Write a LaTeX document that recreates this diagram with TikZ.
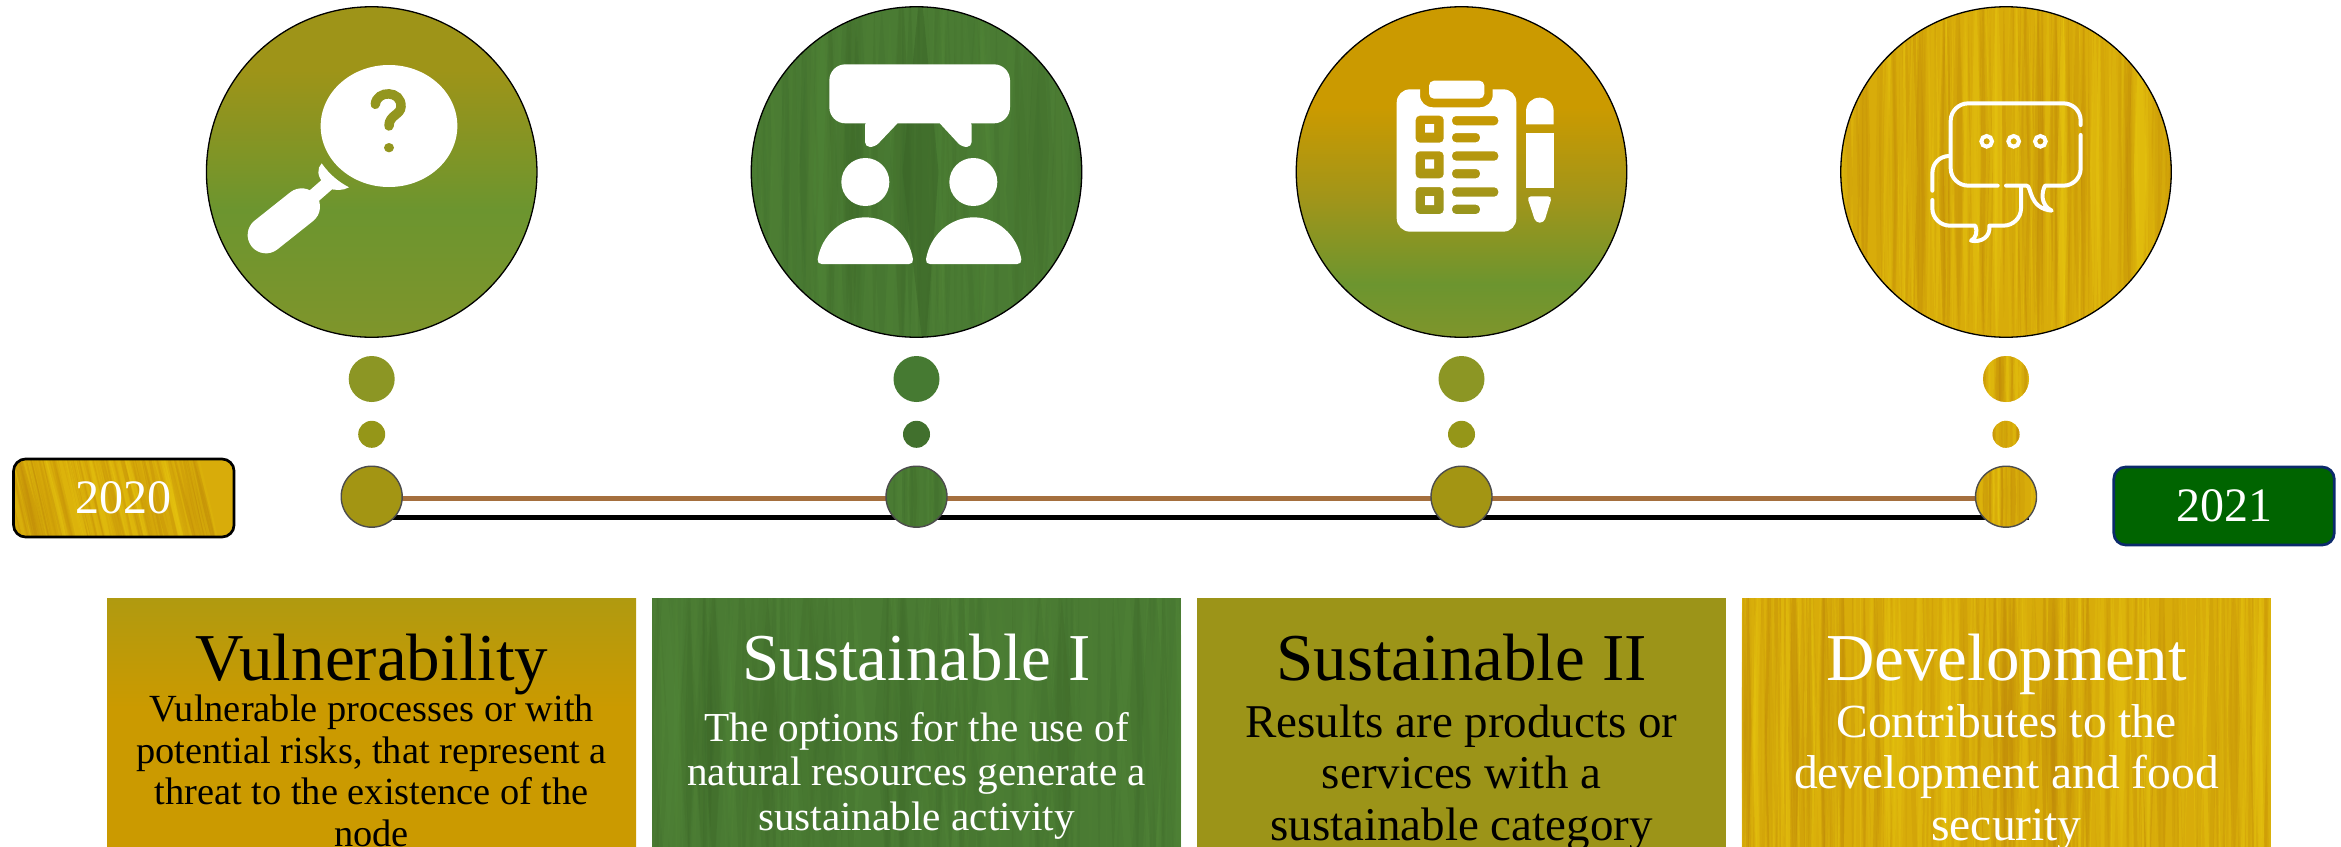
\documentclass[tikz,border=0pt]{standalone}
\usepackage{fontspec}
\setmainfont{Liberation Serif}
\usetikzlibrary{backgrounds}
\definecolor{oliveT}{HTML}{9E9418}
\definecolor{oliveF}{HTML}{9C9418}
\definecolor{leaf}{HTML}{6C952F}
\definecolor{leafB}{HTML}{7F952B}
\definecolor{amber}{HTML}{CB9A00}
\definecolor{amberT}{HTML}{B09A10}
\definecolor{midO}{HTML}{A0951A}
\definecolor{dotA}{HTML}{8C9624}
\definecolor{dotB}{HTML}{959618}
\definecolor{dotC}{HTML}{A39513}
\definecolor{grn}{HTML}{4A7B33}
\definecolor{grnD}{HTML}{3B6528}
\definecolor{grnL}{HTML}{558A3A}
\definecolor{gold}{HTML}{D8AC0A}
\definecolor{goldD}{HTML}{C08A08}
\definecolor{goldL}{HTML}{E8C810}
\definecolor{brownL}{HTML}{A56F3E}
\definecolor{darkG}{HTML}{006400}
\definecolor{navyB}{HTML}{0B2A6B}
\definecolor{dotG}{HTML}{467A32}
\definecolor{dotH}{HTML}{41702D}
\definecolor{qmark}{HTML}{93961F}
\pgfdeclareverticalshading{circA}{100bp}{color(0bp)=(leafB); color(25bp)=(leafB); color(44.3bp)=(leaf); color(65.4bp)=(oliveT); color(100bp)=(oliveT)}
\pgfdeclareverticalshading{circC}{100bp}{color(0bp)=(leafB); color(25bp)=(leafB); color(33bp)=(leaf); color(45.8bp)=(midO); color(59.8bp)=(amber); color(100bp)=(amber)}
\pgfdeclareverticalshading{boxA}{100bp}{color(0bp)=(amber); color(54bp)=(amber); color(75bp)=(amberT); color(100bp)=(amberT)}
% seed, half width, half height, count, max half-stripe width, slant, dark, light, base opacity
\newcommand\streaksbase[8]{%
  \pgfmathsetseed{#1}%
  \begin{scope}[shift={(path picture bounding box.center)}]
  \foreach \i in {1,...,#4}{%
    \pgfmathsetmacro\sx{-#2-#6+rnd*(2*#2+2*#6)}%
    \pgfmathsetmacro\sw{0.8+rnd*#5}%
    \pgfmathsetmacro\st{-#3-60+rnd*#3*0.5}%
    \pgfmathsetmacro\sb{#3+60-rnd*#3*0.5}%
    \pgfmathsetmacro\sm{0.5*(\st+\sb)}%
    \pgfmathsetmacro\so{\stripeop*(0.4+rnd)}%
    \ifodd\i\def\sc{#7}\else\def\sc{#8}\fi
    \fill[\sc,opacity=\so] ({\sx-#6},\st) -- ({\sx+\sw},\sm) -- ({\sx+#6},\sb) -- ({\sx-\sw},\sm) -- cycle;
  }%
  \end{scope}}
\newcommand\streaks[9]{\def\stripeop{#9}\streaksbase{#1}{#2}{#3}{#4}{#5}{#6}{#7}{#8}}
\tikzset{
  bigdisc/.style={circle,draw=black,line width=1.3pt,minimum size=330.5pt,inner sep=0pt},
  dotbig/.style={circle,minimum size=46pt,inner sep=0pt},
  dotmid/.style={circle,minimum size=27pt,inner sep=0pt},
  stopdisc/.style={circle,draw=black!70,line width=1.4pt,minimum size=61pt,inner sep=0pt},
  yearbox/.style={rectangle,rounded corners=12pt,line width=2.7pt,minimum width=220.5pt,minimum height=78pt,inner sep=0pt,text=white,font=\fontsize{48}{48}\selectfont},
  panel/.style={rectangle,minimum width=529pt,minimum height=260pt,inner sep=0pt},
  headtext/.style={anchor=base,inner sep=0pt,font=\fontsize{67}{67}\selectfont},
  bodytext/.style={anchor=north,inner sep=0pt,align=center},
  icon/.style={fill=white},
  iconline/.style={draw=white,line width=4pt,line cap=round,line join=round},
  goldtex/.style={path picture={\streaks{#1}{280}{170}{300}{6}{0}{goldD}{goldL}{.26}}},
  goldsmall/.style={path picture={\streaks{#1}{35}{35}{34}{2.5}{0}{goldD}{goldL}{.3}}},
}
\begin{document}
\begin{tikzpicture}[x=1pt,y=-1pt]
\useasboundingbox (0,0) rectangle (2341,846);

% large discs
\node[bigdisc,shade,shading=circA] (c1) at (371.7,172) {};
\node[bigdisc,fill=grn,path picture={\streaks{11}{170}{170}{110}{13}{0}{grnD}{grnL}{.16}
  \begin{scope}[shift={(path picture bounding box.center)}]
  \fill[grnD,opacity=.5] (4,-190) -- (22,0) -- (8,190) -- (-14,0) -- cycle;
  \end{scope}}] (c2) at (916.5,172) {};
\node[bigdisc,shade,shading=circC] (c3) at (1461.5,172) {};
\node[bigdisc,fill=gold,goldtex=7] (c4) at (2006,172) {};

% icon 1: magnifier with question mark
\begin{scope}[shift={(180,0)},scale=1/3]
  \fill[icon] (627,378) ellipse [x radius=205,y radius=183];
  \draw[qmark,line width=9.5pt,line cap=round] (586,313) .. controls (590,270) and (665,270) .. (663,320) .. controls (662,345) and (627,345) .. (627,378);
  \fill[qmark] (627,443) ellipse [x radius=15,y radius=14];
  \draw[white,line width=36.7pt,line cap=round] (258,705) -- (365,620);
  \draw[white,line width=14pt] (365,620) -- (445,550);
  \fill[icon] (425,490) .. controls (450,525) and (475,545) .. (507,562) .. controls (490,572) and (465,572) .. (445,565) -- (430,548) .. controls (412,530) and (410,505) .. (425,490) -- cycle;
\end{scope}

% icon 2: two people talking
\begin{scope}[shift={(730,0)},scale=1/3]
  \fill[icon,rounded corners=16pt] (298,193) rectangle (840,370);
  \fill[icon,rounded corners=5pt] (405,360) -- (405,441) -- (435,441) -- (512,360) -- cycle;
  \fill[icon,rounded corners=5pt] (725,360) -- (725,441) -- (695,441) -- (620,360) -- cycle;
  \fill[icon] (406,546) circle [radius=72];
  \fill[icon] (730,546) circle [radius=72];
  \foreach \dx in {0,325}{
    \fill[icon,shift={(\dx,0)}] (263,778) .. controls (275,705) and (335,652) .. (406,652) .. controls (477,652) and (537,705) .. (549,778) .. controls (550,787) and (545,792) .. (537,792) -- (275,792) .. controls (267,792) and (262,787) .. (263,778) -- cycle;
  }
\end{scope}

% icon 3: clipboard and pencil
\begin{scope}[shift={(1280,0)},scale=1/3]
  \fill[icon,even odd rule]
    (390,268) -- (420,268) -- (420,285) .. controls (420,307) and (437,322) .. (460,322) -- (598,322) .. controls (620,322) and (638,307) .. (638,285) -- (638,268) -- (670,268) .. controls (692,268) and (709,285) .. (709,308) -- (709,655) .. controls (709,677) and (692,695) .. (670,695) -- (390,695) .. controls (368,695) and (350,677) .. (350,655) -- (350,308) .. controls (350,285) and (368,268) .. (390,268) -- cycle
    [rounded corners=4pt]
    (407,347) rectangle (491,428) (516,348) rectangle (655,376) (516,399) rectangle (600,427)
    (407,454) rectangle (491,535) (516,454) rectangle (655,482) (516,507) rectangle (600,535)
    (407,561) rectangle (491,642) (516,562) rectangle (655,590) (516,614) rectangle (600,642)
    [sharp corners]
    (435,372) rectangle (462,398) (435,478) rectangle (462,506) (435,588) rectangle (462,615);
  \fill[icon,rounded corners=5pt] (447,242) rectangle (613,296);
  \fill[icon] (738,373) -- (738,335) .. controls (738,310) and (756,293) .. (779,293) .. controls (803,293) and (821,310) .. (821,335) -- (821,373) -- cycle;
  \fill[icon] (738,399) rectangle (822,563);
  \fill[icon,rounded corners=4pt] (741,589) -- (816,589) -- (792,668) -- (767,668) -- cycle;
\end{scope}

% icon 4: speech bubbles
\begin{scope}[shift={(1830,0)},scale=1/3]
  \draw[iconline] (752,375) -- (752,362) .. controls (752,333) and (729,310) .. (700,310) -- (415,310) .. controls (386,310) and (362,333) .. (362,362) -- (362,505) .. controls (362,534) and (386,557) .. (415,557) -- (503,557);
  \draw[iconline] (528,557) -- (590,557) .. controls (605,557) and (595,625) .. (665,632) .. controls (630,615) and (635,575) .. (645,557) -- (700,557) .. controls (729,557) and (752,534) .. (752,505) -- (752,405);
  \draw[iconline] (355,468) .. controls (328,470) and (307,490) .. (307,520) -- (307,572);
  \draw[iconline] (307,600) -- (307,625) .. controls (307,654) and (331,677) .. (360,677) -- (436,677) .. controls (443,695) and (438,715) .. (423,722) .. controls (455,728) and (482,710) .. (478,677) -- (520,677) .. controls (549,677) and (573,654) .. (573,625) -- (573,562);
  \foreach \px in {470,551,631}{
    \draw[white,line width=4pt] (\px,424) circle [radius=16];
  }
\end{scope}

% connecting dots
\node[dotbig,fill=dotA] (a1) at (371.7,379) {};
\node[dotmid,fill=dotB] (b1) at (371.7,434.3) {};
\node[dotbig,fill=dotG] (a2) at (916.5,379) {};
\node[dotmid,fill=dotH] (b2) at (916.5,434.3) {};
\node[dotbig,fill=dotA] (a3) at (1461.5,379) {};
\node[dotmid,fill=dotB] (b3) at (1461.5,434.3) {};
\node[dotbig,fill=gold,goldsmall=3] (a4) at (2006,379) {};
\node[dotmid,fill=gold,goldsmall=5] (b4) at (2006,434.3) {};

% timeline stops
\node[stopdisc,fill=dotC] (n1) at (371.7,496.7) {};
\node[stopdisc,fill=grn,path picture={\streaks{21}{35}{35}{24}{5}{0}{grnD}{grnL}{.18}}] (n2) at (916.5,496.7) {};
\node[stopdisc,fill=dotC] (n3) at (1461.5,496.7) {};
\node[stopdisc,fill=gold,goldsmall=9] (n4) at (2006,496.7) {};

\begin{pgfonlayer}{background}
  \draw[brownL,line width=5pt] ([yshift=-1.3pt]n1.center) -- ([yshift=-1.3pt]n4.center);
  \draw[black,line width=5.5pt] ([yshift=-21pt]n1.center) -- ([xshift=23pt,yshift=-21pt]n4.center);
\end{pgfonlayer}

% year labels
\node[yearbox,draw=black,fill=gold,path picture={\streaks{31}{115}{45}{190}{3}{22}{goldD}{goldL}{.28}}] (y1) at (123.8,498) {2020};
\node[yearbox,draw=navyB,fill=darkG] (y2) at (2224,506) {2021};

% panels (they run past the lower edge of the page, as in the reference)
\node[panel,shade,shading=boxA] (p1) at (371.7,728) {};
\node[panel,fill=grn,path picture={\streaks{41}{270}{136}{170}{13}{0}{grnD}{grnL}{.16}}] (p2) at (916.5,728) {};
\node[panel,fill=oliveF] (p3) at (1461.5,728) {};
\node[panel,fill=gold,goldtex=51] (p4) at (2006,728) {};

% panel headings
\node[headtext,text=black] (h1) at (371.7,680.5) {Vulnerability};
\node[headtext,text=white] (h2) at (916.5,680.5) {Sustainable I};
\node[headtext,text=black] (h3) at (1461.5,680.5) {Sustainable II};
\node[headtext,text=white] (h4) at (2006.5,680.5) {Development};

% panel texts
\node[bodytext,text=black,font=\fontsize{38.4}{41.5}\selectfont] (t1) at (371.7,691.5) {\rule{0pt}{30pt}Vulnerable processes or with\\potential risks, that represent a\\threat to the existence of the\\node};
\node[bodytext,text=white,font=\fontsize{41.2}{44.5}\selectfont] (t2) at (916.5,711) {\rule{0pt}{30pt}The options for the use of\\natural resources generate a\\sustainable activity};
\node[bodytext,text=black,font=\fontsize{47}{51.5}\selectfont] (t3) at (1461.5,704.5) {\rule{0pt}{30pt}Results are products or\\services with a\\sustainable category};
\node[bodytext,text=white,font=\fontsize{47.5}{51.5}\selectfont] (t4) at (2006.5,704) {\rule{0pt}{30pt}Contributes to the\\development and food\\security};
\end{tikzpicture}
\end{document}
